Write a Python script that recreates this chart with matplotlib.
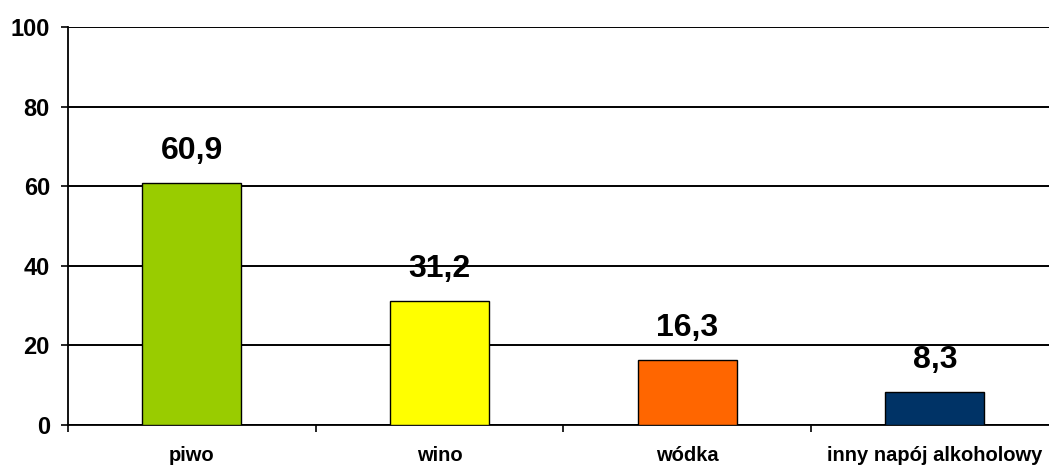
import matplotlib
matplotlib.use("Agg")
import matplotlib.pyplot as plt
import numpy as np

categories = ["piwo", "wino", "wódka", "inny napój alkoholowy"]
values = [60.9, 31.2, 16.3, 8.3]
value_labels = ["60,9", "31,2", "16,3", "8,3"]
colors = ["#99CC00", "#FFFF00", "#FF6600", "#003366"]
yticks = [0, 20, 40, 60, 80, 100]

plt.rcParams['font.family'] = ['Liberation Sans', 'DejaVu Sans']
plt.rcParams['font.weight'] = 'bold'

fig = plt.figure(figsize=(10.49, 4.68), dpi=100)
ax = fig.add_axes([68/1049, 43/468, 990.8/1049, 398/468])

x = np.arange(len(categories))
ax.bar(x, values, width=0.4, color=colors, edgecolor='black', linewidth=1.0, zorder=3)

for xi, v, lab in zip(x, values, value_labels):
    ax.annotate(lab, (xi, v), xytext=(0, 12), textcoords='offset points',
                ha='center', va='bottom', fontsize=23, fontweight='bold')

ax.set_xlim(-0.5, len(categories) - 0.5)
ax.set_ylim(0, 100)
ax.set_yticks(yticks)
ax.set_yticklabels([str(t) for t in yticks], fontsize=17, fontweight='bold')
ax.set_xticks(x)
ax.set_xticklabels(categories, fontsize=14.5, fontweight='bold')
ax.set_xticks(np.arange(len(categories)) - 0.5, minor=True)
ax.tick_params(axis='x', which='major', length=0, pad=15)
ax.tick_params(axis='x', which='minor', length=5, width=1.2, direction='out')
ax.tick_params(axis='y', length=5, width=1.2, direction='out', pad=8)

ax.yaxis.grid(True, color='black', linewidth=1.4, zorder=0)
ax.set_axisbelow(True)
for s in ['top', 'right']:
    ax.spines[s].set_visible(False)
ax.spines['left'].set_linewidth(1.3)
ax.spines['bottom'].set_linewidth(1.3)
ax.spines['left'].set_zorder(4)

fig.savefig("out.png", dpi=100)
